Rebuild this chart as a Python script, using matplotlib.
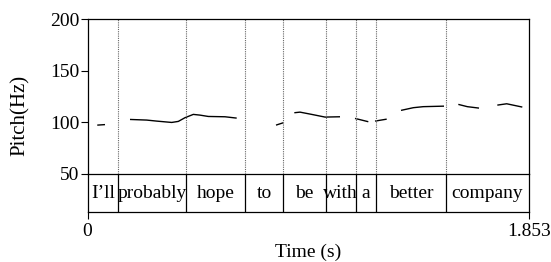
import matplotlib
matplotlib.use("Agg")
import matplotlib.pyplot as plt

plt.rcParams['font.family'] = ['Liberation Serif', 'DejaVu Serif']
FS = 14

t_max = 1.853
words = ["I\u2019ll", "probably", "hope", "to", "be", "with", "a", "better", "company"]
bounds = [0.0, 0.129, 0.414, 0.662, 0.820, 1.002, 1.126, 1.210, 1.506, 1.853]

seg_times = [
    [0.041, 0.0735],
    [0.1785, 0.2486, 0.2906, 0.3536, 0.3814, 0.4095, 0.4444, 0.4725, 0.5074, 0.5775, 0.6266],
    [0.7917, 0.8224],
    [0.8686, 0.8925, 0.9416, 0.9975, 1.0605],
    [1.1235, 1.1794],
    [1.2075, 1.2566],
    [1.3167, 1.3684, 1.4104, 1.4973],
    [1.5574, 1.5952, 1.6443],
    [1.7212, 1.7606, 1.8262],
]
seg_pitch = [
    [97.1, 97.6],
    [102.6, 102.0, 101.0, 99.7, 100.7, 104.3, 107.5, 106.8, 105.5, 105.2, 103.9],
    [97.1, 99.4],
    [109.1, 109.7, 107.5, 104.9, 105.2],
    [103.6, 100.4],
    [101.0, 102.9],
    [111.4, 114.0, 115.0, 115.5],
    [117.2, 115.0, 113.6],
    [116.5, 117.8, 114.6],
]
y_ticks = [50, 100, 150, 200]

W, H = 551, 262
fig = plt.figure(figsize=(W / 100, H / 100), dpi=100)
L, R = 87.5 / W, 528.7 / W
top_p, bot_p, bot_t = 19 / H, 173.7 / H, 212.3 / H
ax = fig.add_axes([L, 1 - bot_p, R - L, bot_p - top_p])
axt = fig.add_axes([L, 1 - bot_t, R - L, bot_t - bot_p])

for ts, ps in zip(seg_times, seg_pitch):
    ax.plot(ts, ps, color='black', lw=1.0, solid_capstyle='butt')
for b in bounds[1:-1]:
    ax.axvline(b, color='#666666', lw=0.8, ls=(0, (1, 1)))
ax.set_xlim(0, t_max)
ax.set_ylim(50, 200)
ax.set_yticks(y_ticks)
ax.set_yticklabels([str(v) for v in y_ticks], fontsize=FS)
ax.tick_params(axis='y', direction='out', length=5, width=0.8, pad=1)
ax.set_xticks([])
for s in ax.spines.values():
    s.set_linewidth(0.9)
ax.spines['bottom'].set_visible(False)
fig.text(20 / W, 1 - 115.5 / H, "Pitch(Hz)", rotation=90, ha='center', va='center', fontsize=15)

axt.set_xlim(0, t_max)
axt.set_ylim(0, 1)
axt.set_yticks([])
for b in bounds[1:-1]:
    axt.axvline(b, color='black', lw=0.9)
for i, w in enumerate(words):
    axt.text((bounds[i] + bounds[i + 1]) / 2, 0.5, w, ha='center', va='center', fontsize=FS)
axt.set_xticks([0, t_max])
axt.set_xticklabels(["0", "1.853"], fontsize=FS)
axt.tick_params(axis='x', direction='out', length=5, width=0.8, pad=3)
for s in axt.spines.values():
    s.set_linewidth(0.9)
axt.set_xlabel("Time (s)", fontsize=FS, labelpad=2)

fig.savefig("out.png", dpi=100)
